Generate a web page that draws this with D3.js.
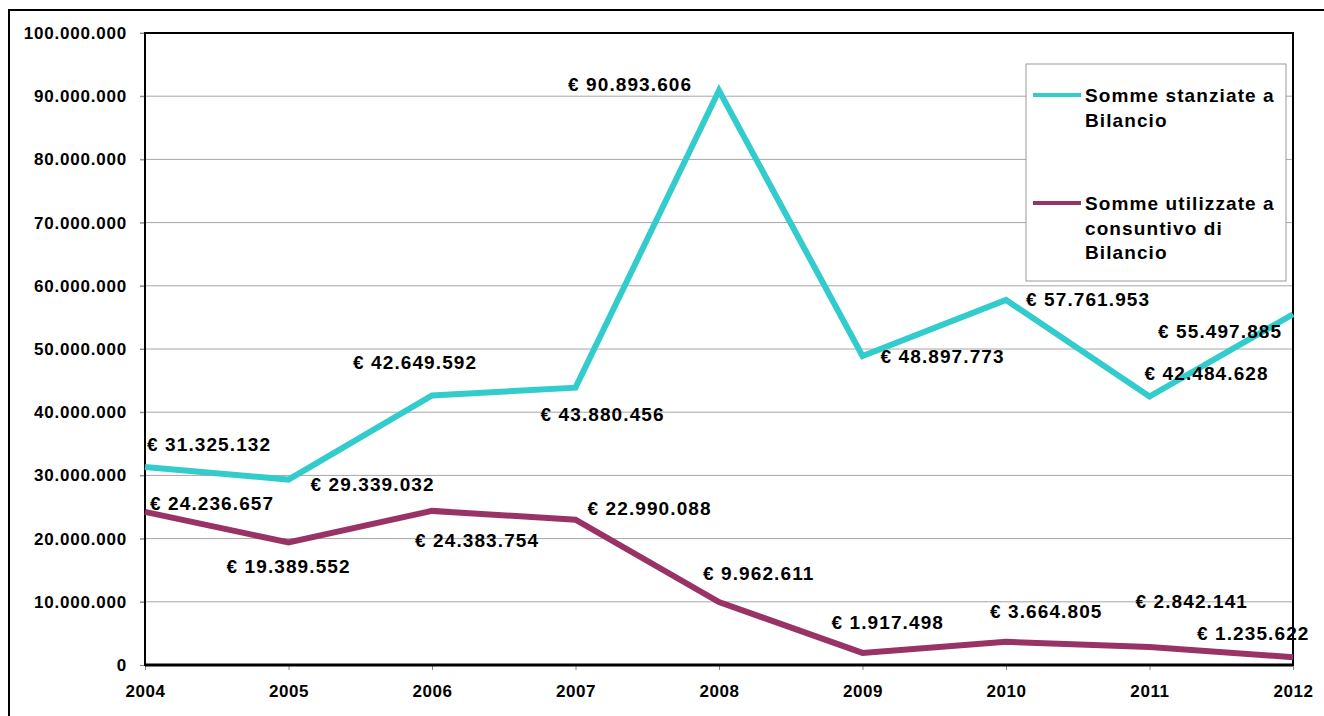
<!DOCTYPE html>
<html>
<head>
<meta charset="utf-8">
<script src="https://cdn.jsdelivr.net/npm/d3@7"></script>
<style>
    body { margin: 0; background: #fff; }
    svg { display: block; font-family: Arial, "Liberation Sans", sans-serif; font-weight: bold; }
    .axis text { font-weight: bold; fill: #000; }
</style>
</head>
<body>
<script>
const years = ["2004", "2005", "2006", "2007", "2008", "2009", "2010", "2011", "2012"]
const stanziate = [31325132, 29339032, 42649592, 43880456, 90893606, 48897773, 57761953, 42484628, 55497885]
const utilizzate = [24236657, 19389552, 24383754, 22990088, 9962611, 1917498, 3664805, 2842141, 1235622]
const yTicks = [0, 10000000, 20000000, 30000000, 40000000, 50000000, 60000000, 70000000, 80000000, 90000000, 100000000]

// label offsets from each point (left x, middle y)
const stanziateOffsets = [[2, -23], [22, 5], [-79, -33], [-35, 27], [-151, -6], [18, 1], [20, 0], [-5, -23], [-135, 17]]
const utilizzateOffsets = [[5, -8], [-62, 24], [-17, 30], [12, -11], [-16, -29], [-31, -30], [-16, -30], [-14, -46], [-96, -24]]

const WIDTH = 1324
const HEIGHT = 716

const PLOT = { left: 145, right: 1293, top: 33, bottom: 665 }

const svg = d3.select("body")
    .append("svg")
    .attr("width", WIDTH)
    .attr("height", HEIGHT)

// outer frame
svg.append("rect")
    .attr("x", 9)
    .attr("y", 10)
    .attr("width", WIDTH)
    .attr("height", HEIGHT)
    .attr("fill", "none")
    .attr("stroke", "#000")
    .attr("stroke-width", 2)

const xScale = d3.scalePoint()
    .domain(years)
    .range([PLOT.left, PLOT.right])

const yScale = d3.scaleLinear()
    .domain([0, 100000000])
    .range([PLOT.bottom, PLOT.top])

const fmt = v => d3.format(",")(v).replace(/,/g, ".")

// gridlines
svg.append("g")
    .selectAll("line")
    .data(yTicks.slice(1))
    .enter()
    .append("line")
    .attr("x1", PLOT.left - 5)
    .attr("x2", PLOT.right)
    .attr("y1", d => yScale(d))
    .attr("y2", d => yScale(d))
    .attr("stroke", "#a6a6a6")
    .attr("stroke-width", 1)

const yAxis = d3.axisLeft(yScale)
    .tickValues(yTicks)
    .tickFormat(fmt)
    .tickSize(5)
    .tickPadding(13)

svg.append("g")
    .attr("class", "axis")
    .attr("transform", "translate(" + PLOT.left + ", 0)")
    .call(yAxis)
    .call(g => g.select(".domain").remove())
    .call(g => g.selectAll(".tick line").attr("stroke", "#888"))
    .call(g => g.selectAll("text").style("font-size", "17px").style("letter-spacing", "0.8px"))

const xAxis = d3.axisBottom(xScale)
    .tickSize(5)
    .tickPadding(15)

svg.append("g")
    .attr("class", "axis")
    .attr("transform", "translate(0, " + PLOT.bottom + ")")
    .call(xAxis)
    .call(g => g.select(".domain").remove())
    .call(g => g.selectAll(".tick line").attr("stroke", "#888"))
    .call(g => g.selectAll("text").style("font-size", "17px").style("letter-spacing", "0.6px"))

// plot frame
svg.append("rect")
    .attr("x", PLOT.left)
    .attr("y", PLOT.top)
    .attr("width", PLOT.right - PLOT.left)
    .attr("height", PLOT.bottom - PLOT.top)
    .attr("fill", "none")
    .attr("stroke", "#000")
    .attr("stroke-width", 2)

svg.append("line")
    .attr("x1", PLOT.left)
    .attr("x2", PLOT.right)
    .attr("y1", PLOT.bottom)
    .attr("y2", PLOT.bottom)
    .attr("stroke", "#000")
    .attr("stroke-width", 3)

const series = [
    { values: stanziate, color: "#33cccc", offsets: stanziateOffsets },
    { values: utilizzate, color: "#993366", offsets: utilizzateOffsets }
]

const line = d3.line()
    .x((d, i) => xScale(years[i]))
    .y(d => yScale(d))

series.forEach(s => {
    svg.append("path")
        .datum(s.values)
        .attr("fill", "none")
        .attr("stroke", s.color)
        .attr("stroke-width", 6)
        .attr("stroke-linejoin", "miter")
        .attr("d", line)
})

series.forEach(s => {
    svg.append("g")
        .selectAll("text")
        .data(s.values)
        .enter()
        .append("text")
        .attr("x", (d, i) => xScale(years[i]) + s.offsets[i][0])
        .attr("y", (d, i) => yScale(d) + s.offsets[i][1])
        .attr("dominant-baseline", "central")
        .style("font-size", "19px")
        .style("letter-spacing", "1.1px")
        .text(d => "€ " + fmt(d))
})

// legend
const legend = svg.append("g")
    .attr("transform", "translate(1026, 64)")

legend.append("rect")
    .attr("width", 260)
    .attr("height", 217)
    .attr("fill", "#fff")
    .attr("stroke", "#999")
    .attr("stroke-width", 1)

const legendItems = [
    { lines: ["Somme stanziate a", "Bilancio"], color: "#33cccc", y: 31 },
    { lines: ["Somme utilizzate a", "consuntivo di", "Bilancio"], color: "#993366", y: 139 }
]

legendItems.forEach(item => {
    legend.append("line")
        .attr("x1", 7)
        .attr("x2", 55)
        .attr("y1", item.y)
        .attr("y2", item.y)
        .attr("stroke", item.color)
        .attr("stroke-width", 4)

    legend.append("text")
        .attr("x", 59)
        .attr("y", item.y)
        .attr("dominant-baseline", "central")
        .style("font-size", "19px")
        .style("letter-spacing", "1.1px")
        .selectAll("tspan")
        .data(item.lines)
        .enter()
        .append("tspan")
        .attr("x", 59)
        .attr("dy", (d, i) => i === 0 ? 0 : 24.5)
        .text(d => d)
})
</script>
</body>
</html>
